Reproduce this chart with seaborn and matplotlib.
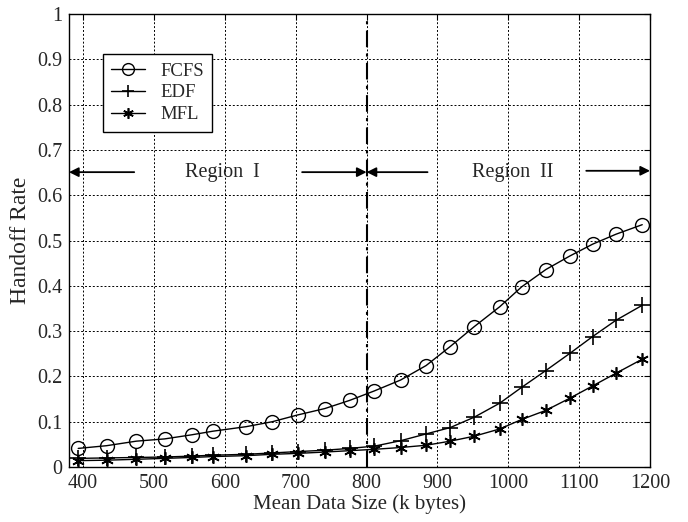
import numpy as np
import pandas as pd
import matplotlib
matplotlib.use("Agg")
import matplotlib.pyplot as plt
import seaborn as sns

# data
data_size = [393, 433, 475, 515, 553, 583, 630, 667, 703, 741, 776, 811,
             848, 884, 918, 952, 988, 1019, 1053, 1087, 1119, 1152, 1189]
fcfs = [0.041, 0.047, 0.057, 0.062, 0.071, 0.079, 0.089, 0.100, 0.115, 0.129, 0.147, 0.168,
        0.192, 0.224, 0.266, 0.310, 0.354, 0.398, 0.436, 0.466, 0.492, 0.514, 0.535]
edf = [0.019, 0.020, 0.021, 0.022, 0.024, 0.026, 0.028, 0.031, 0.034, 0.037, 0.041, 0.046,
       0.058, 0.073, 0.087, 0.110, 0.141, 0.176, 0.213, 0.251, 0.288, 0.324, 0.357]
mfl = [0.014, 0.015, 0.017, 0.019, 0.021, 0.023, 0.025, 0.028, 0.030, 0.033, 0.036, 0.039,
       0.043, 0.048, 0.057, 0.068, 0.084, 0.105, 0.125, 0.152, 0.179, 0.207, 0.238]
series_names = ["FCFS", "EDF", "MFL"]
x_ticks = [400, 500, 600, 700, 800, 900, 1000, 1100, 1200]
y_ticks = [0, 0.1, 0.2, 0.3, 0.4, 0.5, 0.6, 0.7, 0.8, 0.9, 1]
y_tick_labels = ["0", "0.1", "0.2", "0.3", "0.4", "0.5", "0.6", "0.7", "0.8", "0.9", "1"]
region_boundary = 800
region_labels = ["Region  I", "Region  II"]

sns.set_style("white")
plt.rcParams['font.family'] = ['Liberation Serif', 'DejaVu Serif']

fig = plt.figure(figsize=(6.88, 5.22), dpi=100)
ax = fig.add_axes([0.1003, 0.1054, 0.8445, 0.8676])

df = pd.DataFrame({"x": data_size * 3,
                   "y": fcfs + edf + mfl,
                   "s": sum([[n] * len(data_size) for n in series_names], [])})

asterisk = (6, 2, 0)
styles = {
    "FCFS": dict(marker="o", markersize=10, markerfacecolor="none", markeredgecolor="black", markeredgewidth=1.0),
    "EDF": dict(marker="+", markersize=11, markeredgewidth=1.2, markeredgecolor="black"),
    "MFL": dict(marker=asterisk, markersize=9, markeredgewidth=1.2, markeredgecolor="black"),
}
for name in series_names:
    sub = df[df.s == name]
    sns.lineplot(data=sub, x="x", y="y", ax=ax, color="black", linewidth=1.0,
                 label=name, **styles[name])

ax.set_xlim(380, 1200)
ax.set_ylim(0, 1)
ax.set_xticks(x_ticks)
ax.set_yticks(y_ticks)
ax.set_yticklabels(y_tick_labels)
ax.tick_params(direction="in", top=True, right=True, labelsize=14.5, length=4, color="black", pad=5)
ax.grid(True, linestyle=(0, (2, 2)), color="black", linewidth=0.7)
for sp in ax.spines.values():
    sp.set_color("black")
    sp.set_linewidth(1.0)

ax.set_xlabel("Mean Data Size (k bytes)", fontsize=15, labelpad=1)
ax.set_ylabel("Handoff Rate", fontsize=17, labelpad=4)

ax.axvline(region_boundary, color="black", linestyle=(0, (8, 3, 1.5, 3)), linewidth=1.5, zorder=3)

yr = 0.651
ap = dict(arrowstyle="-|>", color="black", lw=1.3, mutation_scale=14, shrinkA=0, shrinkB=0)
ax.annotate("", xy=(380, yr), xytext=(472, yr), arrowprops=ap)
ax.annotate("", xy=(800, yr), xytext=(709, yr), arrowprops=ap)
ax.annotate("", xy=(800, yr), xytext=(886, yr), arrowprops=ap)
ax.annotate("", xy=(1200, yr + 0.003), xytext=(1110, yr + 0.003), arrowprops=ap)
ax.text(597, yr, region_labels[0], ha="center", va="center", fontsize=14.5)
ax.text(1006, yr, region_labels[1], ha="center", va="center", fontsize=14.5)

leg = ax.legend(loc="upper left", bbox_to_anchor=(0.0585, 0.912), fontsize=13.5, frameon=True,
                fancybox=False, edgecolor="black", framealpha=1, handlelength=1.8,
                borderpad=0.45, labelspacing=0.25, borderaxespad=0, handletextpad=0.8,
                markerscale=0.85)
leg.get_frame().set_linewidth(1.0)

fig.savefig("out.png", dpi=100)
